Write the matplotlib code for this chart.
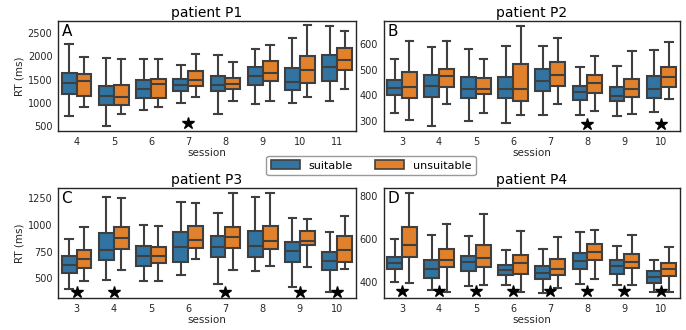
import matplotlib
matplotlib.use("Agg")
import matplotlib.pyplot as plt
from matplotlib.patches import Patch

# ---------------- data ----------------
# each panel: sessions, then [whislo, q1, median, q3, whishi] per session
sessions_P1 = [4, 5, 6, 7, 8, 9, 10, 11]
suit_P1 = [[716, 1190, 1427, 1643, 2269], [507, 946, 1154, 1363, 1967],
           [852, 1104, 1298, 1499, 1945], [996, 1262, 1392, 1514, 1823],
           [766, 1248, 1392, 1586, 2039], [975, 1377, 1586, 1773, 2161],
           [996, 1284, 1442, 1751, 2398], [1039, 1470, 1765, 2030, 2660]]
unsuit_P1 = [[917, 1140, 1478, 1629, 1988], [759, 960, 1133, 1384, 1952],
             [917, 1104, 1413, 1514, 1945], [1118, 1370, 1499, 1694, 2053],
             [1032, 1298, 1413, 1535, 1888], [1045, 1478, 1643, 1895, 2254],
             [1118, 1420, 1715, 2003, 2671], [1297, 1707, 1922, 2175, 2554]]
stars_P1 = [7]
star_y_P1 = 565

sessions_P2 = [3, 4, 5, 6, 7, 8, 9, 10]
suit_P2 = [[330, 402, 429, 462, 544], [279, 395, 436, 479, 591],
           [301, 390, 427, 471, 583], [291, 390, 424, 473, 592],
           [323, 419, 458, 505, 593], [325, 383, 413, 438, 511],
           [321, 378, 396, 432, 515], [337, 390, 425, 475, 578]]
unsuit_P2 = [[304, 390, 432, 490, 614], [368, 432, 475, 505, 614],
             [331, 406, 427, 468, 544], [325, 380, 427, 523, 670],
             [366, 436, 481, 530, 625], [339, 411, 449, 481, 554],
             [327, 393, 427, 466, 573], [385, 432, 471, 510, 609]]
stars_P2 = [8, 10]
star_y_P2 = 287

sessions_P3 = [3, 4, 5, 6, 7, 8, 9, 10]
suit_P3 = [[400, 547, 628, 712, 869], [487, 675, 769, 922, 1259],
           [475, 612, 706, 800, 1000], [528, 650, 791, 931, 1212],
           [447, 697, 791, 900, 1112], [572, 697, 800, 947, 1259],
           [416, 653, 759, 841, 1069], [369, 574, 662, 750, 936]]
unsuit_P3 = [[472, 597, 681, 766, 978], [575, 778, 875, 984, 1253],
             [475, 647, 712, 794, 991], [678, 784, 862, 987, 1206],
             [581, 784, 884, 984, 1300], [619, 775, 853, 994, 1300],
             [606, 816, 853, 944, 1059], [590, 653, 768, 894, 1081]]
stars_P3 = [3, 4, 7, 9, 10]
star_y_P3 = 374

sessions_P4 = [3, 4, 5, 6, 7, 8, 9, 10]
suit_P4 = [[398, 461, 487, 517, 601], [361, 416, 461, 500, 619],
           [380, 448, 490, 521, 615], [383, 430, 456, 476, 548],
           [346, 414, 440, 475, 552], [389, 461, 495, 534, 633],
           [383, 436, 472, 500, 565], [352, 395, 422, 448, 503]]
unsuit_P4 = [[394, 514, 573, 657, 814], [352, 467, 503, 554, 671],
             [386, 468, 510, 573, 717], [352, 436, 486, 523, 635],
             [370, 430, 459, 507, 610], [414, 500, 538, 576, 641],
             [386, 464, 493, 529, 619], [350, 428, 461, 487, 562]]
stars_P4 = [3, 4, 5, 6, 7, 8, 9, 10]
star_y_P4 = 357

titles = ["patient P1", "patient P2", "patient P3", "patient P4"]
letters = ["A", "B", "C", "D"]
groups = ["suitable", "unsuitable"]

# ---------------- style ----------------
BLUE = "#3274A1"
ORANGE = "#E1812C"
LINE = "#3f3f3f"
TXT = "#262626"

fig = plt.figure(figsize=(6.86, 3.30), dpi=100)

W, H = 686.0, 330.0
def rect(l, t, r, b):
    return [l / W, 1 - b / H, (r - l) / W, (b - t) / H]

axes = [fig.add_axes(rect(58, 21, 355.7, 131)),
        fig.add_axes(rect(383.5, 21, 680, 131)),
        fig.add_axes(rect(58, 188, 355.7, 298)),
        fig.add_axes(rect(383.5, 188, 680, 298))]

panels = [
    (sessions_P1, suit_P1, unsuit_P1, stars_P1, star_y_P1, (392, 2765), [500, 1000, 1500, 2000, 2500]),
    (sessions_P2, suit_P2, unsuit_P2, stars_P2, star_y_P2, (261, 691), [300, 400, 500, 600]),
    (sessions_P3, suit_P3, unsuit_P3, stars_P3, star_y_P3, (315, 1347), [500, 750, 1000, 1250]),
    (sessions_P4, suit_P4, unsuit_P4, stars_P4, star_y_P4, (324, 837), [400, 600, 800]),
]

def make_stats(vals):
    return [dict(whislo=v[0], q1=v[1], med=v[2], q3=v[3], whishi=v[4], fliers=[]) for v in vals]

for i, (ax, (sess, su, un, st, sy, ylim, yticks)) in enumerate(zip(axes, panels)):
    n = len(sess)
    for k, (vals, col) in enumerate([(su, BLUE), (un, ORANGE)]):
        pos = [j - 0.2 + 0.4 * k for j in range(n)]
        ax.bxp(make_stats(vals), positions=pos, widths=0.4, patch_artist=True,
               showfliers=False, manage_ticks=False,
               boxprops=dict(facecolor=col, edgecolor=LINE, linewidth=1.5),
               medianprops=dict(color=LINE, linewidth=1.5),
               whiskerprops=dict(color=LINE, linewidth=1.5),
               capprops=dict(color=LINE, linewidth=1.5))
    xs = [sess.index(s) for s in st]
    ax.plot(xs, [sy] * len(xs), linestyle="none", marker="*", color="black",
            markersize=9, zorder=5)
    ax.set_xlim(-0.5, n - 0.5)
    ax.set_ylim(*ylim)
    ax.set_xticks(range(n))
    ax.set_xticklabels([str(s) for s in sess])
    ax.set_yticks(yticks)
    ax.tick_params(length=0, labelsize=7, pad=4, colors=TXT)
    ax.set_title(titles[i], fontsize=10, pad=3)
    ax.set_xlabel("session", fontsize=7.5, color=TXT, labelpad=1)
    if i in (0, 2):
        ax.set_ylabel("RT (ms)", fontsize=7.5, color=TXT, labelpad=2)
    for sp in ax.spines.values():
        sp.set_color(TXT)
        sp.set_linewidth(1.0)
    ax.text(0.012, 0.97, letters[i], transform=ax.transAxes, fontsize=11,
            va="top", ha="left")

handles = [Patch(facecolor=BLUE, edgecolor=LINE, linewidth=1.2, label=groups[0]),
           Patch(facecolor=ORANGE, edgecolor=LINE, linewidth=1.2, label=groups[1])]
leg = fig.legend(handles=handles, loc="center", bbox_to_anchor=(371 / W, 1 - 165.5 / H),
                 ncol=2, fontsize=8, frameon=True, fancybox=True,
                 handlelength=2.6, handleheight=0.9, columnspacing=2.0,
                 borderpad=0.4, handletextpad=0.8)
leg.get_frame().set_edgecolor("#808080")
leg.get_frame().set_linewidth(1.0)

fig.savefig("out.png", dpi=100)
